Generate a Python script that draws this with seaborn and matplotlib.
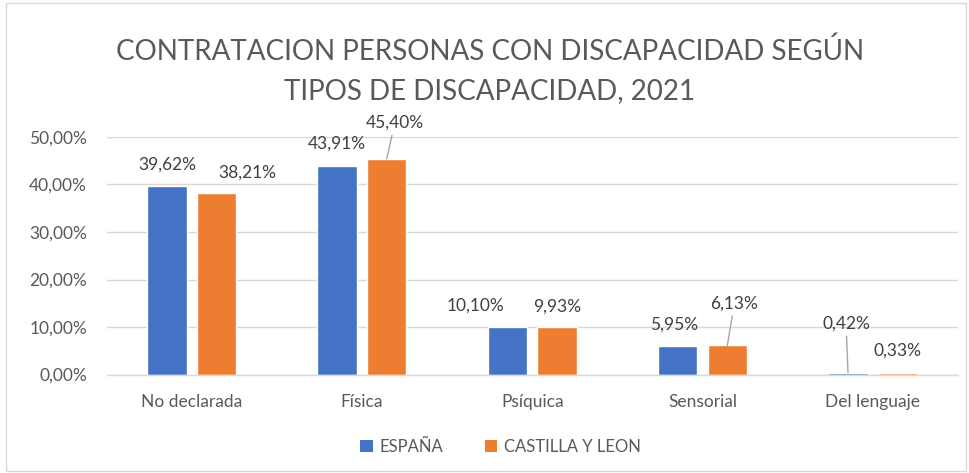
import matplotlib
matplotlib.use("Agg")
import matplotlib.pyplot as plt
import seaborn as sns
import pandas as pd
from matplotlib.patches import Rectangle, Patch

categories = ["No declarada", "Física", "Psíquica", "Sensorial", "Del lenguaje"]
series_names = ["ESPAÑA", "CASTILLA Y LEON"]
espana = [39.62, 43.91, 10.10, 5.95, 0.42]
castilla = [38.21, 45.40, 9.93, 6.13, 0.33]
y_ticks = [0, 10, 20, 30, 40, 50]
title = "CONTRATACION PERSONAS CON DISCAPACIDAD SEGÚN\nTIPOS DE DISCAPACIDAD, 2021"

colors = ["#4472C4", "#ED7D31"]

df = pd.DataFrame({
    "cat": categories * 2,
    "serie": [series_names[0]] * len(categories) + [series_names[1]] * len(categories),
    "val": espana + castilla,
})

sns.set_theme(style="white")
plt.rcParams["font.family"] = ["Lato", "DejaVu Sans"]

fig = plt.figure(figsize=(9.7, 4.73), dpi=100)
ax = fig.add_axes([0.1098, 0.2082, 0.8778, 0.5022])

sns.barplot(data=df, x="cat", y="val", hue="serie", palette=colors,
            width=0.583, gap=0.205, ax=ax, legend=False, saturation=1)

ax.set_ylim(0, 50)
ax.set_yticks(y_ticks)
ax.set_yticklabels([f"{v:.2f}%".replace(".", ",") for v in y_ticks])
ax.set_xlabel("")
ax.set_ylabel("")
ax.grid(axis="y", color="#d9d9d9", linewidth=1)
ax.set_axisbelow(True)
for s in ["top", "right", "left"]:
    ax.spines[s].set_visible(False)
ax.spines["bottom"].set_color("#d9d9d9")
ax.spines["bottom"].set_linewidth(1)
ax.tick_params(axis="both", length=0, labelsize=12.5, colors="#595959")
ax.tick_params(axis="y", pad=14)
ax.tick_params(axis="x", pad=14)

# data labels (offsets in pixels from bar top)
offsets = [
    [(0, 22), (0, 22), (-32, 21), (-4, 22), (-2, 49)],
    [(31, 20), (8, 36), (0, 21), (7, 42), (0, 22)],
]
leaders = [
    [False, False, False, False, True],
    [False, True, False, True, False],
]
for si, cont in enumerate(ax.containers):
    for bi, bar in enumerate(cont):
        xc = bar.get_x() + bar.get_width() / 2
        h = bar.get_height()
        txt = f"{h:.2f}%".replace(".", ",")
        dx, dy = offsets[si][bi]
        kw = {}
        if leaders[si][bi]:
            kw["arrowprops"] = dict(arrowstyle="-", color="#a6a6a6", lw=1,
                                    shrinkA=1, shrinkB=0)
        ax.annotate(txt, xy=(xc, h), xytext=(dx, dy), textcoords="offset pixels",
                    ha="center", va="center", fontsize=12.5, color="#404040", **kw)

fig.text(0.505, 0.85, title, ha="center", va="center", fontsize=20,
         color="#595959", linespacing=1.6)

handles = [Patch(facecolor=c, edgecolor="none") for c in colors]
fig.legend(handles, series_names, loc="center", bbox_to_anchor=(0.516, 0.055),
           ncol=2, frameon=False, fontsize=12, handlelength=0.75, handleheight=0.75,
           handletextpad=0.4, columnspacing=2.5, labelcolor="#595959")

fig.patches.append(Rectangle((0.006, 0.004), 0.99, 0.99, transform=fig.transFigure,
                             fill=False, edgecolor="#d9d9d9", linewidth=1))

fig.savefig("out.png", dpi=100)
